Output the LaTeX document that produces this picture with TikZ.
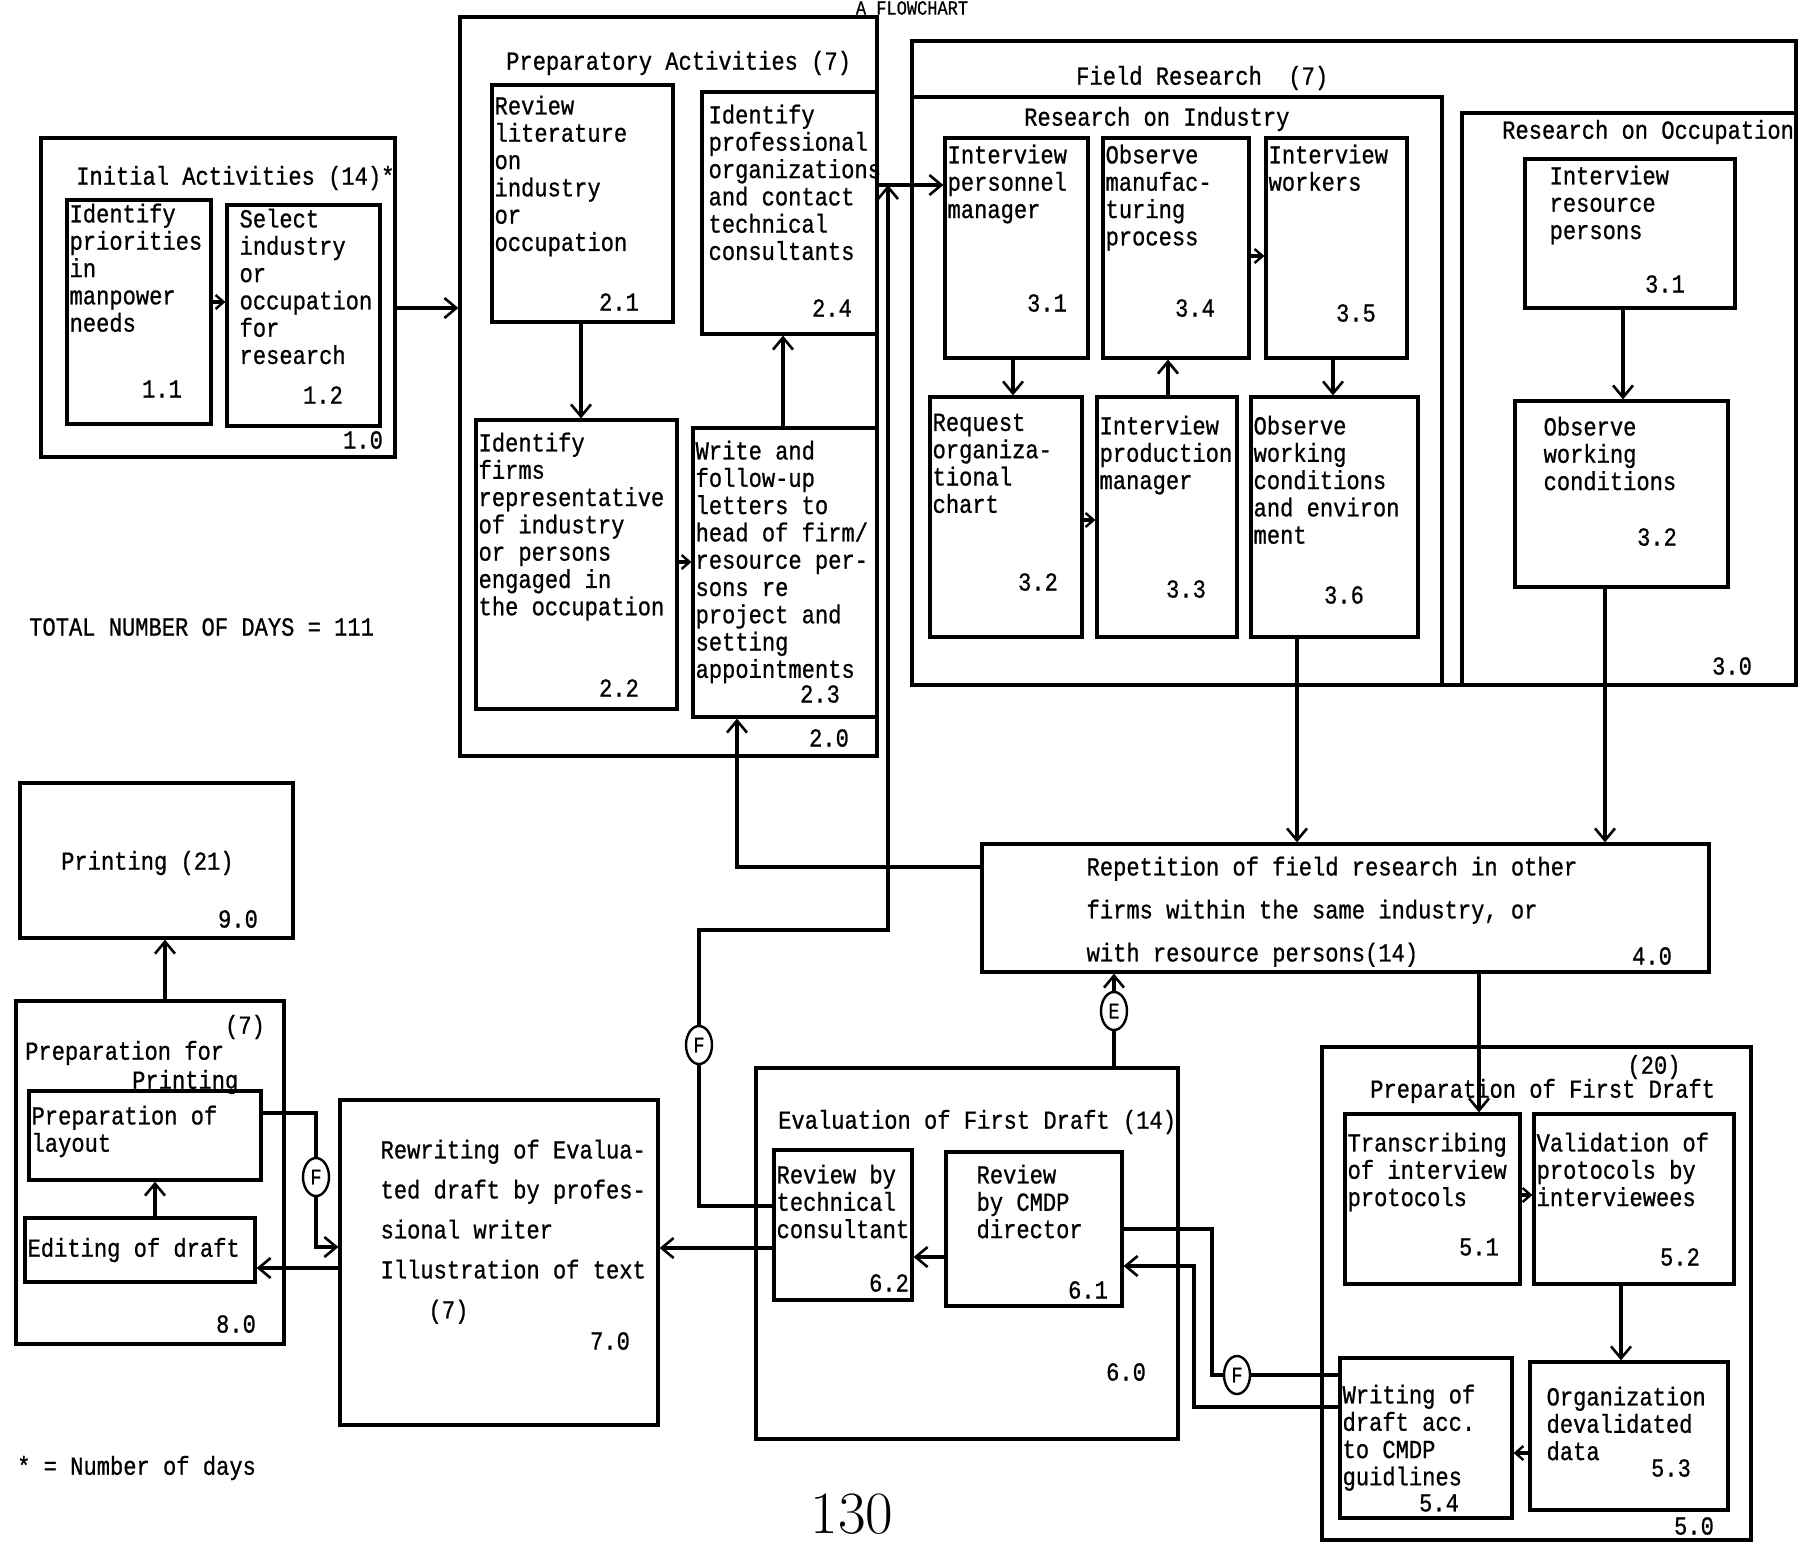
\documentclass[tikz,border=0pt]{standalone}
\usepackage{fontspec}
\newfontfamily\flowfont[FakeStretch=0.85, FakeBold=0.8]{Liberation Mono}
\usetikzlibrary{arrows.meta,shapes.geometric}

\begin{document}
\begin{tikzpicture}[x=1pt, y=-1pt,
    box/.style={draw, line width=3.2pt, inner sep=0pt},
    txt/.style={anchor=north west, align=left, inner sep=0pt, font={\flowfont\fontsize{26}{27.3}\selectfont}},
    num/.style={inner sep=0pt, font={\flowfont\fontsize{26}{27.3}\selectfont}},
    ttl/.style={anchor=west, inner sep=0pt, font={\flowfont\fontsize{26}{27.3}\selectfont}},
    fbk/.style={draw, ellipse, fill=white, line width=2.4pt, minimum width=26pt, minimum height=38pt, inner sep=0pt, font={\flowfont\fontsize{22}{22}\selectfont}},
    link/.style={line width=3.2pt},
    flow/.style={link, -{Straight Barb[length=12pt, width=20pt, line width=2.6pt]}},
    sflow/.style={link, -{Straight Barb[length=8pt, width=14pt, line width=2.4pt]}}]
    \useasboundingbox (0,0) rectangle (1805,1543);
    \clip (0,0) rectangle (1805,1543);

    \node[box, minimum width=354pt, minimum height=319pt] (b10) at (218,297.5) {};
    \node[box, minimum width=144pt, minimum height=224pt] (b11) at (139,312) {};
    \node[box, minimum width=153pt, minimum height=221pt] (b12) at (303.5,315.5) {};

    \node[box, minimum width=417pt, minimum height=739pt] (b20) at (668.5,386.5) {};
    \node[box, minimum width=181pt, minimum height=237pt] (b21) at (582.5,203.5) {};
    \node[box, minimum width=175pt, minimum height=242pt] (b24) at (789.5,213) {};
    \node[box, minimum width=201pt, minimum height=289pt] (b22) at (576.5,564.5) {};
    \node[box, minimum width=184pt, minimum height=289pt] (b23) at (785,572.5) {};

    \node[box, minimum width=884pt, minimum height=644pt] (b30) at (1354,363) {};
    \node[box, minimum width=530pt, minimum height=588pt] (bri) at (1177,391) {};
    \node[box, minimum width=334pt, minimum height=572pt] (bro) at (1629,399) {};
    \node[box, minimum width=143pt, minimum height=220pt] (b31) at (1016.5,248) {};
    \node[box, minimum width=146pt, minimum height=220pt] (b34) at (1176,248) {};
    \node[box, minimum width=141pt, minimum height=220pt] (b35) at (1336.5,248) {};
    \node[box, minimum width=152pt, minimum height=240pt] (b32) at (1006,517) {};
    \node[box, minimum width=140pt, minimum height=240pt] (b33) at (1167,517) {};
    \node[box, minimum width=167pt, minimum height=240pt] (b36) at (1334.5,517) {};
    \node[box, minimum width=210pt, minimum height=149pt] (bo31) at (1630,233.5) {};
    \node[box, minimum width=213pt, minimum height=186pt] (bo32) at (1621.5,494) {};

    \node[box, minimum width=727pt, minimum height=128pt] (b40) at (1345.5,908) {};

    \node[box, minimum width=429pt, minimum height=493pt] (b50) at (1536.5,1293.5) {};
    \node[box, minimum width=175pt, minimum height=170pt] (b51) at (1432.5,1199) {};
    \node[box, minimum width=200pt, minimum height=170pt] (b52) at (1634,1199) {};
    \node[box, minimum width=172pt, minimum height=160pt] (b54) at (1426,1438) {};
    \node[box, minimum width=198pt, minimum height=148pt] (b53) at (1629,1436) {};

    \node[box, minimum width=422pt, minimum height=371pt] (b60) at (967,1253.5) {};
    \node[box, minimum width=138pt, minimum height=150pt] (b62) at (843,1225) {};
    \node[box, minimum width=176pt, minimum height=154pt] (b61) at (1034,1229) {};

    \node[box, minimum width=318pt, minimum height=325pt] (b70) at (499,1262.5) {};

    \node[box, minimum width=268pt, minimum height=343pt] (b80) at (150,1172.5) {};
    \node[box, minimum width=232pt, minimum height=89pt] (b81) at (145,1135.5) {};
    \node[box, minimum width=230pt, minimum height=64pt] (b82) at (140,1250) {};

    \node[box, minimum width=273pt, minimum height=155pt] (b90) at (156.5,860.5) {};

    \node[ttl] (h10) at (76,178) {Initial Activities (14)*};
    \node[ttl] (h20) at (506,63) {Preparatory Activities (7)};
    \node[ttl] (h30) at (1076,78) {Field Research~~(7)};
    \node[ttl] (hri) at (1024,119) {Research on Industry};
    \node[ttl] (hro) at (1502,132) {Research on Occupation};
    \node[ttl] (h60) at (778,1122) {Evaluation of First Draft (14)};
    \node[num] (h50a) at (1654,1067) {(20)};
    \node[ttl] (h50) at (1370,1091) {Preparation of First Draft};
    \node[num] (h80a) at (245,1027) {(7)};
    \node[ttl] (h80) at (25,1053) {Preparation for};
    \node[ttl] (h80b) at (132,1082) {Printing};
    \node[ttl] (t90) at (61,863) {Printing (21)};

    \node[txt] (t11) at ([shift={(4,5)}]b11.north west) {Identify\\priorities\\in\\manpower\\needs};
    \node[txt] (t12) at ([shift={(14,5)}]b12.north west) {Select\\industry\\or\\occupation\\for\\research};
    \node[txt] (t21) at ([shift={(4,12)}]b21.north west) {Review\\literature\\on\\industry\\or\\occupation};
    \node[txt] (t24) at ([shift={(8,14)}]b24.north west) {Identify\\professional\\organizations\\and contact\\technical\\consultants};
    \node[txt] (t22) at ([shift={(4,14)}]b22.north west) {Identify\\firms\\representative\\of industry\\or persons\\engaged in\\the occupation};
    \node[txt] (t23) at ([shift={(4,14)}]b23.north west) {Write and\\follow-up\\letters to\\head of firm/\\resource per-\\sons re\\project and\\setting\\appointments};
    \node[txt] (t31) at ([shift={(4,8)}]b31.north west) {Interview\\personnel\\manager};
    \node[txt] (t34) at ([shift={(4,8)}]b34.north west) {Observe\\manufac-\\turing\\process};
    \node[txt] (t35) at ([shift={(4,8)}]b35.north west) {Interview\\workers};
    \node[txt] (t32) at ([shift={(4,18)}]b32.north west) {Request\\organiza-\\tional\\chart};
    \node[txt] (t33) at ([shift={(4,20)}]b33.north west) {Interview\\production\\manager};
    \node[txt] (t36) at ([shift={(4,20)}]b36.north west) {Observe\\working\\conditions\\and environ\\ment};
    \node[txt] (to31) at ([shift={(26,8)}]bo31.north west) {Interview\\resource\\persons};
    \node[txt] (to32) at ([shift={(30,17)}]bo32.north west) {Observe\\working\\conditions};
    \node[txt, font={\flowfont\fontsize{26}{43}\selectfont}] (t40) at ([shift={(106,14)}]b40.north west) {Repetition of field research in other\\firms within the same industry, or\\with resource persons(14)};
    \node[txt] (t51) at ([shift={(4,20)}]b51.north west) {Transcribing\\of interview\\protocols};
    \node[txt] (t52) at ([shift={(4,20)}]b52.north west) {Validation of\\protocols by\\interviewees};
    \node[txt] (t54) at ([shift={(4,28)}]b54.north west) {Writing of\\draft acc.\\to CMDP\\guidlines};
    \node[txt] (t53) at ([shift={(18,26)}]b53.north west) {Organization\\devalidated\\data};
    \node[txt] (t62) at ([shift={(4,16)}]b62.north west) {Review by\\technical\\consultant};
    \node[txt] (t61) at ([shift={(32,14)}]b61.north west) {Review\\by CMDP\\director};
    \node[txt, font={\flowfont\fontsize{26}{40}\selectfont}] (t70) at ([shift={(42,41)}]b70.north west) {Rewriting of Evalua-\\ted draft by profes-\\sional writer\\Illustration of text\\\hspace*{48pt}(7)};
    \node[txt] (t81) at ([shift={(4,16)}]b81.north west) {Preparation of\\layout};
    \node[ttl] (t82) at ([xshift=4pt]b82.west) {Editing of draft};

    \foreach \nm/\lb/\x/\y in {n11/1.1/162/389, n12/1.2/323/395, n10/1.0/363/440,
        n21/2.1/619/302, n24/2.4/832/308, n22/2.2/619/688, n23/2.3/820/694, n20/2.0/829/738,
        n31/3.1/1047/303, n34/3.4/1195/308, n35/3.5/1356/313, n32/3.2/1038/582,
        n33/3.3/1186/589, n36/3.6/1344/595, no31/3.1/1665/284, no32/3.2/1657/537,
        n30/3.0/1732/666, n40/4.0/1652/956, n51/5.1/1479/1247, n52/5.2/1680/1257,
        n54/5.4/1439/1503, n53/5.3/1671/1468, n50/5.0/1694/1526, n62/6.2/889/1283,
        n61/6.1/1088/1290, n60/6.0/1126/1372, n70/7.0/610/1341, n80/8.0/236/1324,
        n90/9.0/238/919}
        \node[num] (\nm) at (\x,\y) {\lb};

    \node[fbk] (fb1) at (699,1045) {F};
    \node[fbk] (fb2) at (1114,1011) {E};
    \node[fbk] (fb3) at (1237,1375) {F};
    \node[fbk] (fb4) at (316,1177) {F};
    \coordinate (j1) at (888,185);
    \coordinate (j2) at (888,930);
    \coordinate (j3) at (1212,1375);
    \coordinate (j4) at (1194,1266);

    \draw[sflow] (b11.east |- 0,302) -- (b12.west |- 0,302);
    \draw[flow] (b10.east |- 0,308) -- (b20.west |- 0,308);
    \draw[flow] (b21.south -| 581,0) -- (b22.north -| 581,0);
    \draw[sflow] (b22.east |- 0,562) -- (b23.west |- 0,562);
    \draw[flow] (b23.north -| 783,0) -- (b24.south -| 783,0);
    \draw[flow] (b20.east |- 0,185) -- (b31.west |- 0,185);
    \draw[flow] (b31.south -| 1013,0) -- (b32.north -| 1013,0);
    \draw[sflow] (b32.east |- 0,520) -- (b33.west |- 0,520);
    \draw[flow] (b33.north -| 1168,0) -- (b34.south -| 1168,0);
    \draw[sflow] (b34.east |- 0,256) -- (b35.west |- 0,256);
    \draw[flow] (b35.south -| 1333,0) -- (b36.north -| 1333,0);
    \draw[flow] (bo31.south -| 1623,0) -- (bo32.north -| 1623,0);
    \draw[flow] (b36.south -| 1297,0) -- (b40.north -| 1297,0);
    \draw[flow] (bo32.south -| 1605,0) -- (b40.north -| 1605,0);
    \draw[flow] (b40.west |- 0,867) -| (b23.south -| 737,0);
    \draw[flow] (b40.south -| 1479,0) -- (b51.north -| 1479,0);
    \draw[sflow] (b51.east |- 0,1195) -- (b52.west |- 0,1195);
    \draw[flow] (b52.south -| 1621,0) -- (b53.north -| 1621,0);
    \draw[sflow] (b53.west |- 0,1453) -- (b54.east |- 0,1453);
    \draw[link] (b54.west |- fb3) -- (fb3) -- (j3) |- (b61.east |- 0,1229);
    \draw[flow] (b54.west |- 0,1407) -| (j4) -- (b61.east |- j4);
    \draw[flow] (b61.west |- 0,1257) -- (b62.east |- 0,1257);
    \draw[flow] (b60.north -| fb2) -- (fb2) -- (b40.south -| fb2);
    \draw[flow] (b62.west |- 0,1248) -- (b70.east |- 0,1248);
    \draw[link] (b62.west |- 0,1206) -| (fb1.south);
    \draw[flow] (fb1.north) |- (j2) -- (j1);
    \draw[link] (b81.east |- 0,1113) -| (fb4.north);
    \draw[flow] (fb4.south) |- (b70.west |- 0,1247);
    \draw[flow] (b70.west |- 0,1268) -- (b82.east |- 0,1268);
    \draw[flow] (b82.north -| 155,0) -- (b81.south -| 155,0);
    \draw[flow] (b80.north -| 165,0) -- (b90.south -| 165,0);

    \node[ttl] (total) at (29,627) {TOTAL NUMBER OF DAYS = 111};
    \node[ttl] (star) at (17,1468) {* = Number of days};
    \node[inner sep=0pt, font=\fontsize{60}{60}\selectfont] (pg) at (852,1514) {130};
    \node[num, font={\flowfont\fontsize{20}{20}\selectfont}] (hdr) at (912,8) {A FLOWCHART};
\end{tikzpicture}
\end{document}
